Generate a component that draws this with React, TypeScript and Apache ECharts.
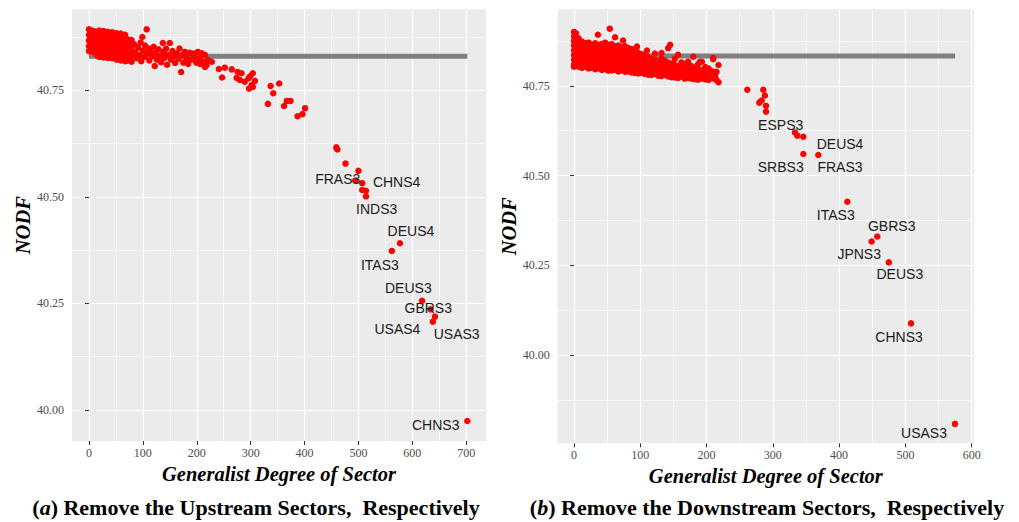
import React, { useEffect, useRef } from "react";
import * as echarts from "echarts";

// ---------- Panel (a): remove upstream sectors ----------
const upXTicks = [0, 100, 200, 300, 400, 500, 600, 700];
const upXMinor = [50, 150, 250, 350, 450, 550, 650];
const upYTicks = [40.0, 40.25, 40.5, 40.75];
const upYMinor = [40.125, 40.375, 40.625, 40.875];
const upBaseline = 40.83;
const upBaseSpan = [0, 702];

const upCloud: [number, number][] = [
  [0, 40.893], [0, 40.88], [0, 40.867], [0, 40.854], [0, 40.842],
  [3, 40.886], [3, 40.873], [3, 40.86], [3, 40.847],
  [6, 40.89], [6, 40.877], [6, 40.864], [6, 40.851], [6, 40.84],
  [9, 40.883], [9, 40.87], [9, 40.857], [9, 40.844],
  [12, 40.888], [12, 40.875], [12, 40.862], [12, 40.849], [12, 40.838],
  [15, 40.882], [15, 40.869], [15, 40.856], [15, 40.843], [15, 40.832],
  [19, 40.89], [19, 40.877], [19, 40.864], [19, 40.851], [19, 40.838], [19, 40.828],
  [23, 40.884], [23, 40.871], [23, 40.858], [23, 40.845], [23, 40.833],
  [27, 40.889], [27, 40.876], [27, 40.863], [27, 40.85], [27, 40.837], [27, 40.827],
  [31, 40.883], [31, 40.87], [31, 40.857], [31, 40.844], [31, 40.831],
  [35, 40.887], [35, 40.874], [35, 40.861], [35, 40.848], [35, 40.835], [35, 40.826],
  [39, 40.882], [39, 40.869], [39, 40.856], [39, 40.843], [39, 40.83],
  [43, 40.886], [43, 40.873], [43, 40.86], [43, 40.847], [43, 40.834], [43, 40.825],
  [47, 40.88], [47, 40.867], [47, 40.854], [47, 40.841], [47, 40.829],
  [51, 40.884], [51, 40.871], [51, 40.858], [51, 40.845], [51, 40.832], [51, 40.822],
  [55, 40.878], [55, 40.865], [55, 40.852], [55, 40.839], [55, 40.826],
  [59, 40.883], [59, 40.869], [59, 40.856], [59, 40.843], [59, 40.83], [59, 40.82],
  [63, 40.875], [63, 40.862], [63, 40.849], [63, 40.836], [63, 40.823],
  [67, 40.88], [67, 40.866], [67, 40.853], [67, 40.84], [67, 40.827], [67, 40.818],
  [71, 40.87], [71, 40.857], [71, 40.844], [71, 40.831], [71, 40.82],
  [75, 40.863], [75, 40.85], [75, 40.837], [75, 40.824],
  [79, 40.868], [79, 40.846], [79, 40.83], [79, 40.817],
  [84, 40.858], [86, 40.838], [88, 40.825], [91, 40.85], [93, 40.832], [96, 40.862],
  [97, 40.818], [99, 40.875], [100, 40.843], [103, 40.828], [104, 40.855], [107, 40.893],
  [108, 40.836], [111, 40.848], [112, 40.82], [115, 40.84], [118, 40.83], [120, 40.852],
  [122, 40.807], [124, 40.838], [126, 40.822], [129, 40.846], [131, 40.83], [134, 40.816],
  [137, 40.861], [138, 40.84], [140, 40.826], [143, 40.848], [145, 40.81], [147, 40.833],
  [150, 40.861], [152, 40.822], [155, 40.842], [158, 40.83], [160, 40.814], [163, 40.836],
  [166, 40.824], [168, 40.848], [171, 40.793], [172, 40.832], [175, 40.815], [178, 40.84],
  [181, 40.826], [184, 40.812], [187, 40.838], [190, 40.822], [193, 40.836], [196, 40.828],
  [199, 40.815], [202, 40.84], [205, 40.825], [206, 40.812], [209, 40.837], [212, 40.817],
  [215, 40.833], [215, 40.805], [218, 40.809], [221, 40.821], [228, 40.817],
];

const upTail: [number, number][] = [
  [241, 40.8], [252, 40.803], [265, 40.799], [247, 40.78], [276, 40.793], [283, 40.79],
  [274, 40.779], [280, 40.774], [289, 40.77], [299, 40.783], [304, 40.79], [296, 40.778],
  [308, 40.772], [302, 40.762], [297, 40.754], [304, 40.758], [337, 40.76], [353, 40.766],
  [342, 40.743], [332, 40.718], [362, 40.713], [367, 40.725], [374, 40.725], [387, 40.689],
  [396, 40.694], [401, 40.708],
  [459, 40.616], [461, 40.611], [476, 40.578], [500, 40.561], [507, 40.516], [514, 40.514],
];

const upNames = ["FRAS3", "CHNS4", "INDS3", "DEUS4", "ITAS3", "DEUS3", "GBRS3", "USAS4", "USAS3", "CHNS3"];
const upNamedX = [494, 507, 514, 577, 562, 618, 634, 638, 642, 702];
const upNamedY = [40.538, 40.532, 40.501, 40.391, 40.373, 40.256, 40.236, 40.207, 40.219, 39.974];

// ---------- Panel (b): remove downstream sectors ----------
const downXTicks = [0, 100, 200, 300, 400, 500, 600];
const downXMinor = [50, 150, 250, 350, 450, 550];
const downYTicks = [40.0, 40.25, 40.5, 40.75];
const downYMinor = [39.875, 40.125, 40.375, 40.625, 40.875];
const downBaseline = 40.833;
const downBaseSpan = [0, 575];

const downCloud: [number, number][] = [
  [0, 40.9], [0, 40.888], [0, 40.875], [0, 40.862], [0, 40.849], [0, 40.836], [0, 40.823], [0, 40.81], [0, 40.803],
  [3, 40.896], [3, 40.87], [3, 40.845], [3, 40.82],
  [7, 40.882], [7, 40.868], [7, 40.855], [7, 40.842], [7, 40.829], [7, 40.816], [7, 40.803],
  [12, 40.873], [12, 40.86], [12, 40.847], [12, 40.834], [12, 40.821], [12, 40.808], [12, 40.8],
  [17, 40.868], [17, 40.855], [17, 40.842], [17, 40.829], [17, 40.816], [17, 40.803],
  [22, 40.87], [22, 40.858], [22, 40.845], [22, 40.832], [22, 40.819], [22, 40.806], [22, 40.798],
  [27, 40.865], [27, 40.852], [27, 40.839], [27, 40.826], [27, 40.813], [27, 40.8],
  [32, 40.868], [32, 40.856], [32, 40.843], [32, 40.83], [32, 40.817], [32, 40.804], [32, 40.796],
  [36, 40.892],
  [37, 40.864], [37, 40.851], [37, 40.838], [37, 40.825], [37, 40.812], [37, 40.799],
  [42, 40.866], [42, 40.854], [42, 40.841], [42, 40.828], [42, 40.815], [42, 40.802], [42, 40.794],
  [47, 40.87], [47, 40.858], [47, 40.845], [47, 40.832], [47, 40.819], [47, 40.806], [47, 40.796],
  [52, 40.864], [52, 40.851], [52, 40.838], [52, 40.825], [52, 40.812], [52, 40.799], [52, 40.792],
  [54, 40.909],
  [57, 40.866], [57, 40.854], [57, 40.841], [57, 40.828], [57, 40.815], [57, 40.802], [57, 40.793],
  [62, 40.885], [62, 40.86], [62, 40.847], [62, 40.834], [62, 40.821], [62, 40.808], [62, 40.795],
  [67, 40.862], [67, 40.85], [67, 40.837], [67, 40.824], [67, 40.811], [67, 40.798], [67, 40.79],
  [72, 40.858], [72, 40.845], [72, 40.832], [72, 40.819], [72, 40.806], [72, 40.793],
  [74, 40.876],
  [77, 40.86], [77, 40.848], [77, 40.835], [77, 40.822], [77, 40.809], [77, 40.796], [77, 40.789],
  [82, 40.855], [82, 40.842], [82, 40.829], [82, 40.816], [82, 40.803], [82, 40.79],
  [87, 40.852], [87, 40.839], [87, 40.826], [87, 40.813], [87, 40.8], [87, 40.787],
  [92, 40.848], [92, 40.835], [92, 40.822], [92, 40.809], [92, 40.796], [92, 40.786],
  [95, 40.859],
  [97, 40.842], [97, 40.829], [97, 40.816], [97, 40.803], [97, 40.79], [97, 40.784],
  [102, 40.838], [102, 40.825], [102, 40.812], [102, 40.799], [102, 40.786],
  [107, 40.834], [107, 40.821], [107, 40.808], [107, 40.795], [107, 40.783],
  [110, 40.848],
  [112, 40.83], [112, 40.817], [112, 40.804], [112, 40.791], [112, 40.781],
  [117, 40.826], [117, 40.813], [117, 40.8], [117, 40.787], [117, 40.78],
  [122, 40.84], [122, 40.822], [122, 40.809], [122, 40.796], [122, 40.784],
  [127, 40.818], [127, 40.805], [127, 40.792], [127, 40.778],
  [132, 40.841], [132, 40.826], [132, 40.813], [132, 40.8], [132, 40.787], [132, 40.777],
  [137, 40.82], [137, 40.807], [137, 40.794], [137, 40.78],
  [142, 40.855], [142, 40.815], [142, 40.802], [142, 40.789], [142, 40.776],
  [145, 40.864],
  [147, 40.812], [147, 40.799], [147, 40.786], [147, 40.774],
  [152, 40.825], [152, 40.808], [152, 40.795], [152, 40.782], [152, 40.773],
  [157, 40.836], [157, 40.805], [157, 40.792], [157, 40.779], [157, 40.772],
  [162, 40.815], [162, 40.802], [162, 40.789], [162, 40.776],
  [167, 40.81], [167, 40.798], [167, 40.786], [167, 40.773], [167, 40.77],
  [172, 40.817], [172, 40.813], [172, 40.795], [172, 40.783], [172, 40.772],
  [177, 40.805], [177, 40.792], [177, 40.78], [177, 40.77],
  [180, 40.831],
  [182, 40.8], [182, 40.788], [182, 40.777], [182, 40.768],
  [187, 40.81], [187, 40.797], [187, 40.785], [187, 40.774], [187, 40.767],
  [190, 40.817],
  [193, 40.817], [193, 40.793], [193, 40.781], [193, 40.77],
  [198, 40.802], [198, 40.79], [198, 40.778], [198, 40.768],
  [203, 40.798], [203, 40.786], [203, 40.775], [203, 40.766],
  [208, 40.79], [208, 40.78], [208, 40.772],
  [210, 40.824], [210, 40.827],
  [213, 40.785], [213, 40.775], [213, 40.768],
  [215, 40.766], [215, 40.789],
  [218, 40.808], [218, 40.76],
];

const downTail: [number, number][] = [
  [261.5, 40.739], [285.6, 40.739], [288, 40.723], [283, 40.709], [279.6, 40.703],
  [289.7, 40.694], [289.7, 40.678], [337, 40.611],
];

const downNames = ["ESPS3", "DEUS4", "SRBS3", "FRAS3", "ITAS3", "GBRS3", "JPNS3", "DEUS3", "CHNS3", "USAS3"];
const downNamedX = [333.4, 346, 346, 368.6, 412.4, 457.6, 449, 475, 508.5, 574.8];
const downNamedY = [40.62, 40.608, 40.56, 40.557, 40.427, 40.33, 40.316, 40.258, 40.088, 39.808];

// ---------- layout (label offsets in px, not data) ----------
const upLabelOffsets = [
  [-17.5, -2], [34.4, -1.3], [10.7, 13], [11, -12.3], [-12, 14],
  [-13.7, -12.4], [-2.4, -1], [-35.4, 7.6], [21.7, 17.3], [-31.6, 4],
];
const downLabelOffsets = [
  [-14.3, -7.7], [36.7, 7.3], [-22.6, 12.7], [21.7, 12.3], [-11.6, 13.3],
  [14.4, -10.7], [-12.4, 12.3], [11, 11.7], [-12, 13.4], [-31, 9.3],
];

const SERIF = "'Liberation Serif', 'Times New Roman', serif";
const SANS = "'Liberation Sans', Arial, sans-serif";
const RED = "#FF0000";
const DOT = 6.5;
const TITLE_SIZE = 20.5;
const CAPTION_SIZE = 22;

function xAxes(gridIndex: number, min: number, max: number, ticks: number[], minor: number[]) {
  return [
    {
      type: "value", gridIndex, min, max, position: "bottom",
      name: "Generalist Degree of Sector", nameLocation: "middle", nameGap: 11,
      nameTextStyle: { fontFamily: SERIF, fontSize: TITLE_SIZE, fontWeight: "bold", fontStyle: "italic", color: "#000" },
      axisLine: { show: false },
      axisTick: { show: true, length: 4, customValues: ticks, lineStyle: { color: "#333", width: 1 } },
      axisLabel: { customValues: ticks, color: "#4d4d4d", fontFamily: SERIF, fontSize: 12, margin: 6 },
      splitLine: { show: true, lineStyle: { color: "#ffffff", width: 1.2 } },
    },
    {
      type: "value", gridIndex, min, max, position: "bottom",
      axisLine: { show: false },
      axisTick: { show: false, customValues: minor },
      axisLabel: { show: false, customValues: minor },
      splitLine: { show: true, lineStyle: { color: "#ffffff", width: 0.6 } },
    },
  ];
}

function yAxes(gridIndex: number, min: number, max: number, ticks: number[], minor: number[], gap: number) {
  return [
    {
      type: "value", gridIndex, min, max, position: "left",
      name: "NODF", nameLocation: "middle", nameGap: gap,
      nameTextStyle: { fontFamily: SERIF, fontSize: TITLE_SIZE, fontWeight: "bold", fontStyle: "italic", color: "#000" },
      axisLine: { show: false },
      axisTick: { show: true, length: 4, customValues: ticks, lineStyle: { color: "#333", width: 1 } },
      axisLabel: {
        customValues: ticks, color: "#4d4d4d", fontFamily: SERIF, fontSize: 12, margin: 8,
        formatter: (v: number) => v.toFixed(2),
      },
      splitLine: { show: true, lineStyle: { color: "#ffffff", width: 1.2 } },
    },
    {
      type: "value", gridIndex, min, max, position: "left",
      axisLine: { show: false },
      axisTick: { show: false, customValues: minor },
      axisLabel: { show: false, customValues: minor },
      splitLine: { show: true, lineStyle: { color: "#ffffff", width: 0.6 } },
    },
  ];
}

function panelSeries(
  xi: number, yi: number, base: number, span: number[],
  cloud: [number, number][], tail: [number, number][],
  names: string[], nx: number[], ny: number[], offsets: number[][]
) {
  return [
    {
      type: "line", xAxisIndex: xi, yAxisIndex: yi, symbol: "none", silent: true, z: 2,
      lineStyle: { color: "#7f7f7f", width: 5, cap: "butt" },
      data: span.map((x) => [x, base]),
    },
    {
      type: "scatter", xAxisIndex: xi, yAxisIndex: yi, symbolSize: DOT, z: 3,
      itemStyle: { color: RED, opacity: 1 },
      data: cloud.concat(tail),
    },
    {
      type: "scatter", xAxisIndex: xi, yAxisIndex: yi, symbolSize: DOT, z: 4,
      itemStyle: { color: RED, opacity: 1 },
      label: {
        show: true, position: "inside", color: "#1a1a1a", fontFamily: SANS, fontSize: 14,
        formatter: (p: any) => p.name,
      },
      labelLayout: (p: any) => ({ dx: offsets[p.dataIndex][0], dy: offsets[p.dataIndex][1] }),
      data: names.map((n, i) => ({ name: n, value: [nx[i], ny[i]] })),
    },
  ];
}

const captionRich = {
  n: { fontFamily: SERIF, fontSize: CAPTION_SIZE, fontWeight: "bold", color: "#000", lineHeight: 24 },
  i: { fontFamily: SERIF, fontSize: CAPTION_SIZE, fontWeight: "bold", fontStyle: "italic", color: "#000", lineHeight: 24 },
};

const option: any = {
  animation: false,
  backgroundColor: "#ffffff",
  title: [
    {
      text: "{n|(}{i|a}{n|) Remove the Upstream Sectors,  Respectively}",
      left: 256, top: 495, padding: 0, textAlign: "center",
      textStyle: { rich: captionRich },
    },
    {
      text: "{n|(}{i|b}{n|) Remove the Downstream Sectors,  Respectively}",
      left: 767, top: 495, padding: 0, textAlign: "center",
      textStyle: { rich: captionRich },
    },
  ],
  grid: [
    { left: 72, top: 9.3, width: 414, height: 431.7, show: true, backgroundColor: "#EBEBEB", borderWidth: 0 },
    { left: 557.7, top: 9.3, width: 416.3, height: 434, show: true, backgroundColor: "#EBEBEB", borderWidth: 0 },
  ],
  xAxis: [
    ...xAxes(0, -31.5, 736.7, upXTicks, upXMinor),
    ...xAxes(1, -24.6, 603.5, downXTicks, downXMinor),
  ],
  yAxis: [
    ...yAxes(0, 39.927, 40.94, upYTicks, upYMinor, 34),
    ...yAxes(1, 39.754, 40.963, downYTicks, downYMinor, 39),
  ],
  series: [
    ...panelSeries(0, 0, upBaseline, upBaseSpan, upCloud, upTail, upNames, upNamedX, upNamedY, upLabelOffsets),
    ...panelSeries(2, 2, downBaseline, downBaseSpan, downCloud, downTail, downNames, downNamedX, downNamedY, downLabelOffsets),
  ],
};

export default function App() {
  const ref = useRef<HTMLDivElement>(null);
  useEffect(() => {
    document.body.style.margin = "0";
    const chart = echarts.init(ref.current!, null, { renderer: "svg" });
    chart.setOption(option);
    return () => chart.dispose();
  }, []);
  return <div ref={ref} style={{ position: "absolute", left: 0, top: 0, width: 1019, height: 522 }} />;
}
